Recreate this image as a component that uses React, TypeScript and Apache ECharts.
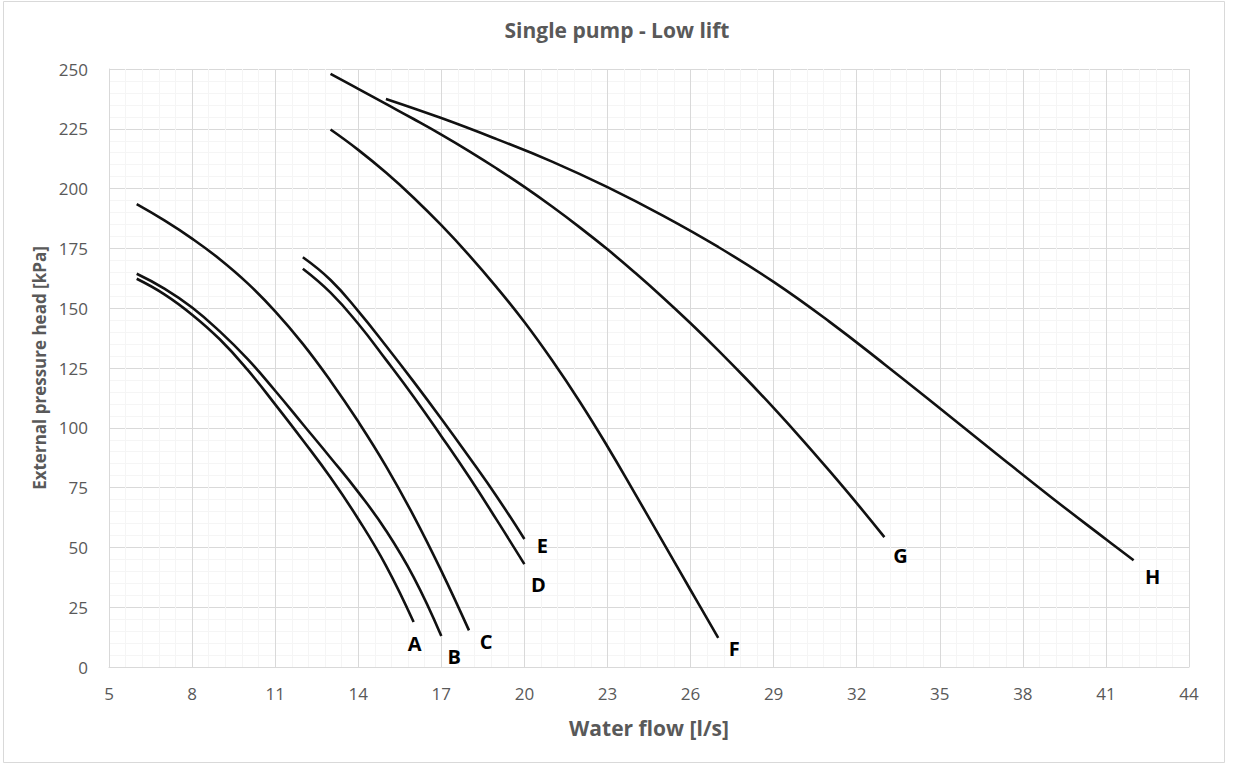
import React, { useEffect, useRef } from "react";
import * as echarts from "echarts";

// Axis ticks
const flowTicks = [5, 8, 11, 14, 17, 20, 23, 26, 29, 32, 35, 38, 41, 44];
const headTicks = [0, 25, 50, 75, 100, 125, 150, 175, 200, 225, 250];

// Pump curves: [water flow l/s, external pressure head kPa]
const curveA: [number, number][] = [
  [6, 162.3], [7, 155.8], [8, 147.3], [9, 137], [10, 124.3], [11, 109.8],
  [12, 94.8], [13, 79.2], [14, 61.9], [15, 42.4], [16, 18.8],
];
const curveB: [number, number][] = [
  [6, 164.4], [7, 158.2], [8, 150.3], [9, 140.3], [10, 128.8], [11, 115.5],
  [12, 101.5], [13, 87.5], [14, 73.1], [15, 57.1], [16, 37.6], [17, 13],
];
const curveC: [number, number][] = [
  [6, 193.5], [7, 186.7], [8, 179.1], [9, 170.5], [10, 160.5], [11, 148.7],
  [12, 135.1], [13, 119.6], [14, 102.6], [15, 84], [16, 63.2], [17, 40.2], [18, 15.3],
];
const curveD: [number, number][] = [
  [12, 166.5], [13, 156.5], [14, 143.5], [15, 128.5], [16, 113],
  [17, 96.5], [18, 79.5], [19, 61.5], [20, 43],
];
const curveE: [number, number][] = [
  [12, 171.3], [13, 161.8], [14, 148.8], [15, 134.3], [16, 119.3],
  [17, 103.8], [18, 87.8], [19, 71.3], [20, 53.5],
];
const curveF: [number, number][] = [
  [13, 224.7], [14, 216.2], [15, 206.7], [16, 196.2], [17, 184.7], [18, 172.2],
  [19, 158.7], [20, 144.2], [21, 128.2], [22, 110.9], [23, 92.2], [24, 72.4],
  [25, 52.3], [26, 32.2], [27, 12.2],
];
const curveG: [number, number][] = [
  [13, 248], [14, 241.7], [15, 235.4], [16, 229.1], [17, 222.6], [18, 215.7],
  [19, 208.4], [20, 200.7], [21, 192.5], [22, 183.8], [23, 174.6], [24, 164.8],
  [25, 154.5], [26, 143.7], [27, 132.4], [28, 120.6], [29, 108.3], [30, 95.5],
  [31, 82.2], [32, 68.5], [33, 54.3],
];
const curveH: [number, number][] = [
  [15, 237.5], [17, 229.5], [19, 220.7], [21, 211.3], [23, 200.6], [25, 188.7],
  [27, 175.6], [29, 161], [31, 144.5], [33, 126.6], [35, 108.2], [37, 89.6],
  [39, 71.2], [41, 53.4], [42, 44.6],
];

const curveNames = ["A", "B", "C", "D", "E", "F", "G", "H"];
const curves = [curveA, curveB, curveC, curveD, curveE, curveF, curveG, curveH];

// Pixel nudges of each curve letter from its end point
const letterNudge: [number, number][] = [
  [1, 21], [13, 21], [17, 11], [14, 20], [18, 6], [16, 11], [16, 18], [19, 16],
];

const FONT = "'Open Sans', 'Noto Sans', sans-serif";
const GREY = "#595959";

export default function App() {
  const ref = useRef<HTMLDivElement>(null);

  useEffect(() => {
    if (!ref.current) return;
    const chart = echarts.init(ref.current, undefined, { renderer: "svg" });

    const series = curves.map((curve, i) => ({
      type: "line",
      name: curveNames[i],
      data: curve,
      symbol: "none",
      showSymbol: false,
      smooth: 0.45,
      lineStyle: { color: "#111", width: 2.6 },
      silent: true,
      markPoint: {
        symbol: "circle",
        symbolSize: 0,
        silent: true,
        itemStyle: { color: "transparent" },
        data: [{ coord: curve[curve.length - 1] }],
        label: {
          show: true,
          position: "inside",
          offset: letterNudge[i],
          formatter: curveNames[i],
          color: "#000",
          fontWeight: "bold",
          fontSize: 20,
          fontFamily: FONT,
        },
      },
    }));

    chart.setOption({
      animation: false,
      backgroundColor: "#fff",
      title: {
        text: "Single pump - Low lift",
        left: "center",
        top: 14,
        textStyle: { color: GREY, fontSize: 21, fontWeight: "bold", fontFamily: FONT },
      },
      graphic: [
        {
          type: "rect",
          shape: { x: 3.5, y: 1.5, width: 1221, height: 761 },
          style: { fill: "none", stroke: "#d9d9d9", lineWidth: 1 },
          silent: true,
        },
      ],
      grid: { left: 109, right: 45, top: 69, bottom: 99, containLabel: false },
      xAxis: {
        type: "value",
        min: flowTicks[0],
        max: flowTicks[flowTicks.length - 1],
        interval: flowTicks[1] - flowTicks[0],
        name: "Water flow [l/s]",
        nameLocation: "middle",
        nameGap: 50,
        nameTextStyle: { color: GREY, fontSize: 21, fontWeight: "bold", fontFamily: FONT },
        axisLine: { show: true, lineStyle: { color: "#d9d9d9", width: 1 } },
        axisTick: { show: false },
        axisLabel: { color: GREY, fontSize: 17, fontFamily: FONT, margin: 18 },
        splitLine: { show: true, lineStyle: { color: "#d9d9d9", width: 1 } },
        minorTick: { show: false, splitNumber: 5 },
        minorSplitLine: { show: true, lineStyle: { color: "#f5f5f5", width: 1 } },
      },
      yAxis: {
        type: "value",
        min: headTicks[0],
        max: headTicks[headTicks.length - 1],
        interval: headTicks[1] - headTicks[0],
        name: "External pressure head [kPa]",
        nameLocation: "middle",
        nameGap: 58,
        nameTextStyle: { color: GREY, fontSize: 17, fontWeight: "bold", fontFamily: FONT },
        axisLine: { show: true, lineStyle: { color: "#d9d9d9", width: 1 } },
        axisTick: { show: false },
        axisLabel: { color: GREY, fontSize: 17, fontFamily: FONT, margin: 21 },
        splitLine: { show: true, lineStyle: { color: "#d9d9d9", width: 1 } },
        minorTick: { show: false, splitNumber: 5 },
        minorSplitLine: { show: true, lineStyle: { color: "#f5f5f5", width: 1 } },
      },
      series,
    });

    return () => chart.dispose();
  }, []);

  return (
    <div
      ref={ref}
      style={{ position: "fixed", left: 0, top: 0, width: 1234, height: 766, background: "#fff" }}
    />
  );
}
